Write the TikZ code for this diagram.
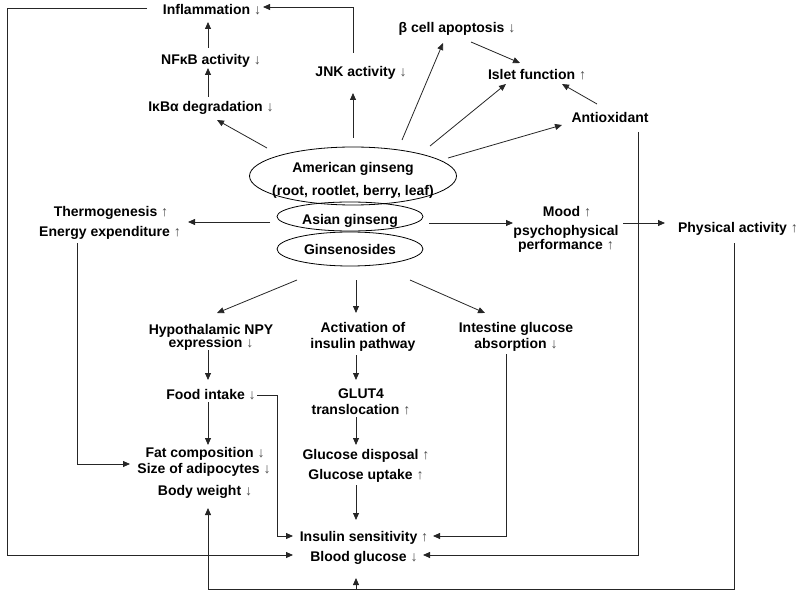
\documentclass[tikz,border=0pt]{standalone}
\usepackage{fontspec}
\setmainfont{Liberation Sans}
\usetikzlibrary{arrows.meta,calc,shapes.geometric}
\newcommand\dn{{\mdseries\color{black!70}↓}}
\newcommand\up{{\mdseries\color{black!70}↑}}
\tikzset{
  lbl/.style={anchor=base, font=\bfseries\fontsize{14}{16}\selectfont, text height=10pt, text depth=3pt, inner sep=0pt},
  ell/.style={ellipse, draw, line width=0.8pt, inner sep=0pt},
  con/.style={draw=black!85, line width=0.8pt},
  arr/.style={con, -{Triangle[length=7pt,width=6pt]}}
}
\begin{document}
\begin{tikzpicture}[x=1pt,y=-1pt]
\useasboundingbox (0,0) rectangle (800,596);
% top
\node[lbl] (infl) at (212,15) {Inflammation \dn};
\node[lbl] (nfkb) at (211,65) {NFκB activity \dn};
\node[lbl] (ikb) at (211,112) {IκBα degradation \dn};
\node[lbl] (jnk) at (361,77) {JNK activity \dn};
\node[lbl] (beta) at (457,33) {β cell apoptosis \dn};
\node[lbl] (islet) at (537,80) {Islet function \up};
\node[lbl] (antiox) at (610,123) {Antioxidant};
% ellipses
\node[ell, minimum width=207pt, minimum height=58pt] (am) at (353,176) {};
\node[lbl] (am1) at (353,173) {American ginseng};
\node[lbl] (am2) at (353,196) {(root, rootlet, berry, leaf)};
\node[ell, minimum width=146pt, minimum height=29pt] (as) at (350,216.5) {};
\node[lbl] (astxt) at (350,224) {Asian ginseng};
\node[ell, minimum width=146pt, minimum height=34pt] (gs) at (350,249) {};
\node[lbl] (gstxt) at (350,254) {Ginsenosides};
% middle row
\node[lbl] (thermo) at (111,216) {Thermogenesis \up};
\node[lbl] (energy) at (110,236) {Energy expenditure \up};
\node[lbl] (mood) at (567,216) {Mood \up};
\node[lbl] (psy1) at (566,235) {psychophysical};
\node[lbl] (psy2) at (566,249) {performance \up};
\node[lbl] (phys) at (738,232) {Physical activity \up};
% lower
\node[lbl] (hypo1) at (211,334) {Hypothalamic NPY};
\node[lbl] (hypo2) at (211,347) {expression \dn};
\node[lbl] (act1) at (363,332) {Activation of};
\node[lbl] (act2) at (363,348) {insulin pathway};
\node[lbl] (int1) at (516,332) {Intestine glucose};
\node[lbl] (int2) at (516,348) {absorption \dn};
\node[lbl] (food) at (211,399) {Food intake \dn};
\node[lbl] (glut1) at (361,398) {GLUT4};
\node[lbl] (glut2) at (361,414) {translocation \up};
\node[lbl] (fat1) at (205,457) {Fat composition \dn};
\node[lbl] (fat2) at (204,473) {Size of adipocytes \dn};
\node[lbl] (fat3) at (205,495) {Body weight \dn};
\node[lbl] (gd1) at (366,459) {Glucose disposal \up};
\node[lbl] (gd2) at (366,479) {Glucose uptake \up};
\node[lbl] (ins) at (364,541) {Insulin sensitivity \up};
\node[lbl] (bg) at (364,561) {Blood glucose \dn};
% connectors top
\draw[arr] ($(nfkb.base)+(-3,-17)$) -- ($(infl.base)+(-4,7)$);
\draw[arr] ($(ikb.base)+(-3,-15)$) -- ($(nfkb.base)+(-3,3)$);
\draw[arr] ($(jnk.base)+(-8,-24)$) |- ($(infl.base)+(51,-8)$);
\draw[arr] ($(am)+(0,-38)$) -- ($(jnk.base)+(-8,16)$);
\draw[arr] ($(am)+(-86,-28)$) -- ($(ikb.base)+(6,8)$);
\draw[arr] ($(am)+(49,-36)$) -- ($(beta.base)+(-14,10)$);
\draw[arr] ($(am)+(77,-30)$) -- ($(islet.base)+(-31,4)$);
\draw[arr] ($(am)+(95,-18)$) -- ($(antiox.base)+(-48,2)$);
\draw[arr] ($(beta.base)+(14,9)$) -- ($(islet.base)+(-17,-17)$);
\draw[arr] ($(antiox.base)+(-13,-19)$) -- ($(islet.base)+(25,4)$);
\draw[arr] ($(antiox.base)+(28,9)$) |- ($(bg.base)+(59,-6)$);
\draw[arr] ($(infl.base)+(-65,-7)$) -- ++(-140,0) |- ($(bg.base)+(-71,-6)$);
% middle
\draw[arr] ($(as)+(-80,5.5)$) -- ($(thermo.base)+(77,6)$);
\draw[arr] ($(as)+(79,6.5)$) -- ($(mood.base)+(-54,7)$);
\draw[arr] ($(mood.base)+(56,7)$) -- ($(phys.base)+(-73,-9)$);
\draw[arr] ($(energy.base)+(-33,7)$) |- ($(fat2.base)+(-74,-9)$);
\draw[arr] ($(phys.base)+(-4,11)$) -- ++(0,346) -| ($(fat3.base)+(3,13)$);
\draw[arr] ($(bg.base)+(-8,28)$) -- ($(bg.base)+(-8,17)$);
% lower
\draw[arr] ($(gs)+(-53,31)$) -- ($(hypo1.base)+(6,-21)$);
\draw[arr] ($(gs)+(6,31)$) -- ($(act1.base)+(-7,-19)$);
\draw[arr] ($(gs)+(60,31)$) -- ($(int1.base)+(-31,-19)$);
\draw[arr] ($(hypo2.base)+(-3,3)$) -- ($(food.base)+(-3,-19)$);
\draw[arr] ($(food.base)+(-3,3)$) -- ($(fat1.base)+(3,-12)$);
\draw[arr] ($(food.base)+(46,-4)$) -- ++(20,0) |- ($(ins.base)+(-71,-5)$);
\draw[arr] ($(act2.base)+(-7,7)$) -- ($(glut1.base)+(-5,-18)$);
\draw[arr] ($(glut2.base)+(-5,3)$) -- ($(gd1.base)+(-10,-14)$);
\draw[arr] ($(gd2.base)+(-10,6)$) -- ($(ins.base)+(-8,-21)$);
\draw[arr] ($(int2.base)+(-10,6)$) |- ($(ins.base)+(69,-5)$);
\end{tikzpicture}
\end{document}
